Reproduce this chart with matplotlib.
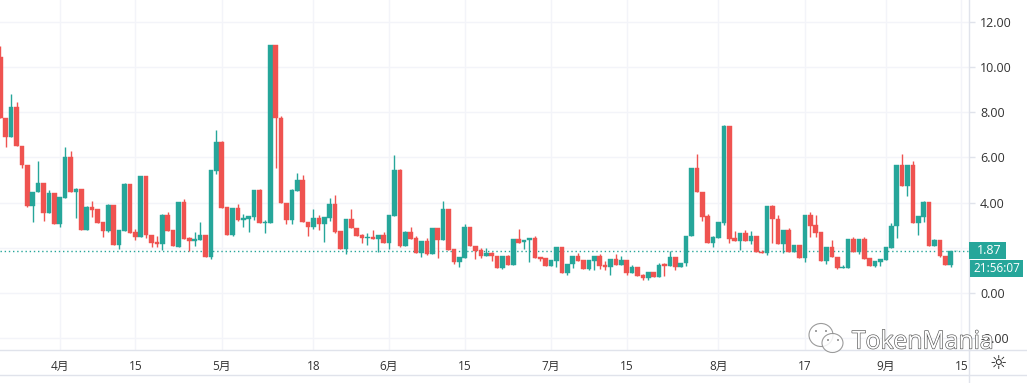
import numpy as np
import matplotlib
matplotlib.use("Agg")
import matplotlib.pyplot as plt
from matplotlib.patches import Ellipse, Rectangle
from matplotlib.lines import Line2D
import matplotlib.patheffects as pe

plt.rcParams["font.family"] = ["Open Sans", "Noto Sans CJK SC", "DejaVu Sans"]

# =========================
# DATA
# =========================

opens = [
    10.46, 7.73, 6.92, 8.22, 6.50, 5.68, 3.86, 4.45, 4.88, 3.55,
    4.44, 3.07, 4.22, 6.03, 4.45, 4.60, 2.79, 3.80, 3.72, 3.13,
    2.74, 3.89, 2.11, 2.76, 4.81, 2.70, 2.49, 5.19, 2.57, 2.24,
    2.15, 3.45, 2.77, 2.05, 4.04, 2.42, 2.32, 2.35, 2.57, 1.59,
    5.40, 6.67, 3.79, 2.58, 3.76, 3.23, 3.29, 3.38, 4.56, 3.11,
    3.11, 10.97, 7.74, 4.00, 3.22, 4.53, 5.00, 3.16, 2.92, 3.32,
    3.07, 3.33, 3.94, 2.73, 1.95, 3.29, 2.89, 2.57, 2.42, 2.49,
    2.39, 2.57, 2.21, 3.42, 5.44, 2.10, 2.70, 2.42, 1.78, 2.30,
    1.71, 2.86, 2.35, 3.72, 1.93, 1.39, 1.55, 2.93, 2.10, 1.90,
    1.62, 1.78, 1.65, 1.11, 1.65, 1.22, 2.37, 2.24, 2.33, 2.42,
    1.58, 1.53, 1.19, 1.43, 2.02, 0.90, 1.27, 1.62, 1.46, 1.06,
    1.43, 1.65, 1.22, 1.15, 1.50, 1.24, 1.46, 0.87, 1.15, 0.78,
    0.68, 0.94, 0.72, 1.27, 1.19, 1.61, 1.15, 1.31, 2.51, 5.52,
    4.48, 3.41, 2.21, 2.43, 3.10, 7.40, 2.42, 2.32, 2.66, 2.32,
    2.54, 1.83, 1.75, 3.85, 3.29, 2.18, 2.77, 1.83, 2.12, 1.56,
    3.44, 3.01, 2.68, 1.43, 2.05, 1.61, 1.12, 1.12, 2.37, 1.83,
    2.37, 1.53, 1.19, 1.39, 1.47, 1.99, 2.95, 5.68, 4.73, 5.68,
    3.10, 3.38, 4.01, 2.10, 2.35, 1.65, 1.22, 1.84,
]
closes = [
    7.73, 6.92, 8.22, 6.49, 5.66, 3.86, 4.48, 4.88, 3.55, 4.44,
    3.07, 4.23, 6.03, 4.45, 4.60, 2.79, 3.80, 3.69, 3.11, 2.74,
    3.89, 2.11, 2.77, 4.81, 2.67, 2.49, 5.19, 2.57, 2.23, 2.15,
    3.45, 2.76, 2.08, 4.04, 2.39, 2.32, 2.37, 2.57, 1.59, 5.44,
    6.67, 3.78, 2.58, 3.76, 3.23, 3.33, 3.41, 4.56, 3.11, 3.14,
    10.97, 7.73, 3.98, 3.22, 4.56, 5.00, 3.16, 2.92, 3.32, 3.07,
    3.36, 3.94, 2.71, 1.95, 3.29, 2.86, 2.54, 2.42, 2.49, 2.39,
    2.57, 2.21, 3.45, 5.44, 2.10, 2.70, 2.39, 1.78, 2.30, 1.71,
    2.86, 2.35, 3.72, 1.90, 1.39, 1.58, 2.93, 2.06, 1.87, 1.62,
    1.78, 1.64, 1.11, 1.65, 1.22, 2.37, 2.21, 2.33, 2.42, 1.55,
    1.52, 1.19, 1.46, 2.02, 0.90, 1.30, 1.62, 1.43, 1.06, 1.46,
    1.65, 1.19, 1.17, 1.50, 1.24, 1.46, 0.87, 1.15, 0.75, 0.68,
    0.94, 0.72, 1.25, 1.21, 1.61, 1.13, 1.34, 2.54, 5.52, 4.45,
    3.38, 2.21, 2.46, 3.13, 7.40, 2.39, 2.32, 2.66, 2.32, 2.54,
    1.80, 1.75, 3.85, 3.26, 2.18, 2.77, 1.83, 2.12, 1.56, 3.44,
    2.98, 2.67, 1.43, 2.05, 1.61, 1.12, 1.15, 2.37, 1.83, 2.37,
    1.52, 1.19, 1.42, 1.50, 2.02, 2.96, 5.68, 4.73, 5.68, 3.10,
    3.41, 4.01, 2.10, 2.35, 1.64, 1.22, 1.87, 1.87,
]
highs = [
    10.94, 7.73, 8.79, 8.44, 6.50, 5.68, 4.48, 5.84, 4.88, 4.56,
    4.44, 4.23, 6.45, 6.28, 4.63, 4.60, 3.85, 4.09, 3.72, 3.13,
    3.92, 3.89, 2.77, 4.88, 4.81, 2.82, 5.19, 5.19, 2.57, 2.54,
    3.50, 3.57, 2.77, 4.04, 4.16, 2.46, 2.70, 3.14, 2.57, 5.44,
    7.21, 6.71, 3.79, 3.76, 3.94, 3.50, 3.41, 4.56, 4.59, 3.22,
    10.97, 10.97, 7.83, 4.00, 4.60, 5.33, 5.22, 3.16, 3.72, 3.45,
    3.36, 4.19, 4.34, 2.73, 3.29, 3.72, 2.89, 2.61, 2.64, 2.79,
    2.57, 2.71, 3.45, 6.11, 5.49, 2.73, 2.92, 2.52, 2.30, 2.42,
    2.89, 2.86, 4.09, 3.72, 1.93, 1.58, 3.05, 2.93, 2.10, 1.98,
    1.98, 1.83, 1.65, 1.65, 1.70, 2.37, 2.82, 2.33, 2.42, 2.52,
    1.61, 1.53, 1.46, 2.02, 2.02, 1.30, 1.62, 1.78, 1.46, 1.46,
    1.65, 1.73, 1.43, 1.50, 1.71, 1.62, 1.46, 1.24, 1.15, 0.83,
    0.94, 0.94, 1.31, 1.31, 1.86, 1.61, 1.34, 2.54, 5.52, 6.15,
    4.48, 3.48, 2.52, 3.13, 7.45, 7.40, 2.74, 2.66, 2.77, 2.74,
    2.54, 1.90, 3.85, 3.88, 3.45, 2.77, 2.86, 2.12, 2.12, 3.44,
    3.57, 3.45, 2.68, 2.05, 2.35, 1.61, 1.24, 2.37, 2.46, 2.37,
    2.46, 1.53, 1.42, 1.50, 2.02, 3.08, 5.68, 6.15, 5.68, 5.83,
    3.41, 4.06, 4.01, 2.39, 2.35, 1.65, 1.87, 1.88,
]
lows = [
    7.73, 6.45, 6.92, 6.49, 5.55, 3.82, 3.16, 4.45, 3.19, 3.55,
    3.07, 2.94, 4.22, 4.45, 3.33, 2.79, 2.79, 3.38, 3.11, 2.46,
    2.71, 2.11, 1.96, 2.76, 2.67, 2.35, 2.49, 2.42, 2.05, 2.02,
    1.90, 2.76, 2.08, 2.05, 2.39, 1.87, 2.09, 2.35, 1.59, 1.50,
    5.28, 3.78, 2.58, 2.54, 3.17, 2.94, 2.70, 3.23, 3.11, 2.67,
    3.11, 5.55, 3.98, 3.05, 3.05, 4.53, 3.16, 2.52, 2.85, 2.79,
    2.27, 3.20, 2.67, 1.95, 1.74, 2.86, 2.54, 2.23, 2.14, 2.39,
    1.83, 2.21, 1.96, 3.42, 2.02, 2.10, 2.39, 1.78, 1.59, 1.67,
    1.71, 1.55, 2.35, 1.90, 1.27, 1.15, 1.55, 2.06, 1.50, 1.53,
    1.62, 1.43, 1.11, 1.08, 1.22, 1.22, 2.21, 1.96, 1.39, 1.55,
    1.43, 1.19, 1.19, 1.17, 0.90, 0.80, 1.12, 1.43, 1.06, 1.03,
    1.03, 1.08, 1.00, 0.78, 1.24, 1.24, 0.80, 0.87, 0.75, 0.57,
    0.57, 0.72, 0.72, 0.75, 1.19, 1.02, 1.15, 1.21, 2.51, 4.45,
    3.18, 2.21, 2.02, 2.43, 3.02, 2.23, 2.32, 1.90, 2.32, 2.17,
    1.80, 1.75, 1.67, 2.23, 2.18, 1.78, 1.83, 1.83, 1.56, 1.39,
    2.49, 2.49, 1.43, 1.27, 1.61, 1.08, 1.12, 1.12, 1.83, 1.71,
    1.52, 1.19, 1.16, 1.19, 1.47, 1.99, 2.45, 4.73, 4.29, 3.10,
    2.57, 3.16, 2.10, 2.10, 1.60, 1.22, 1.16, 1.84,
]

price_ticks = [12, 10, 8, 6, 4, 2, 0, -2]
price_labels = ["12.00", "10.00", "8.00", "6.00", "4.00", "", "0.00", "-2.00"]  # 2.00 sits under the price box
date_pos = [11, 25, 41, 58, 72, 86, 102, 116, 133, 149, 164, 178]
date_labels = ["4月", "15", "5月", "18", "6月", "15", "7月", "15", "8月", "17", "9月", "15"]
last_price = 1.87
countdown = "21:56:07"
watermark = "TokenMania"

# =========================
# Figure setup
# =========================

W, H = 1027, 383
UP = "#26a69a"
DOWN = "#ef5350"
BORDER = "#e0e3eb"
GRID = "#f3f4f9"
TEXT = "#333333"

fig = plt.figure(figsize=(W / 100, H / 100), dpi=100, facecolor="white")
ax_right, ax_bottom = 969, 350
ax = fig.add_axes([0, 1 - ax_bottom / H, ax_right / W, ax_bottom / H])


def fx(x):
    return x / W


def fy(y):
    return 1 - y / H


ax.set_xlim(-0.06, 179.4)
ax.set_ylim(-2.52, 12.96)
ax.set_axisbelow(True)
ax.grid(True, color=GRID, lw=1.0)

# =========================
# Candles
# =========================

idx = np.arange(len(closes))
o = np.array(opens)
c = np.array(closes)
colors = [UP if cc >= oo else DOWN for oo, cc in zip(o, c)]

ax.vlines(idx, lows, highs, colors=colors, lw=1.0, zorder=2)
ax.bar(idx, np.abs(c - o), bottom=np.minimum(o, c), width=0.84,
       color=colors, edgecolor=colors, lw=0.3, zorder=3)

# last price line
ax.axhline(last_price, color=UP, lw=1.0, ls=(0, (1, 2)), zorder=1)

# =========================
# Axes
# =========================

ax.yaxis.tick_right()
ax.set_yticks(price_ticks)
ax.set_yticklabels(price_labels, fontsize=9, color=TEXT)
ax.tick_params(axis="y", length=4, width=1, color=BORDER, pad=4)

ax.set_xticks(date_pos)
ax.set_xticklabels(date_labels, fontsize=8.5, color=TEXT)
ax.tick_params(axis="x", length=0, pad=7)

for s in ["top", "left"]:
    ax.spines[s].set_visible(False)
for s in ["right", "bottom"]:
    ax.spines[s].set_color(BORDER)
    ax.spines[s].set_linewidth(1.0)

# axis frame outside the plot area
fig.add_artist(Line2D([fx(ax_right), 1], [fy(ax_bottom)] * 2, color=BORDER, lw=1.0))
fig.add_artist(Line2D([0, 1], [fy(375)] * 2, color=BORDER, lw=1.0))
fig.add_artist(Line2D([fx(ax_right)] * 2, [fy(ax_bottom), fy(383)], color=BORDER, lw=1.0))

# =========================
# Price and countdown labels
# =========================

fig.add_artist(Rectangle((fx(969), fy(259)), 37 / W, 17 / H, color=UP,
                         transform=fig.transFigure, lw=0))
fig.text(fx(989), fy(250.5), f"{last_price:.2f}", color="white", fontsize=9,
         ha="center", va="center")
fig.add_artist(Rectangle((fx(970), fy(277)), 53 / W, 17 / H, color=UP,
                         transform=fig.transFigure, lw=0))
fig.text(fx(996.5), fy(268.5), countdown, color="white", fontsize=8.5,
         ha="center", va="center")

# settings icon
fig.text(fx(998), fy(363.5), "\u263c", color="#222222", fontsize=14,
         ha="center", va="center", family="DejaVu Sans")

# =========================
# Watermark
# =========================

for cx, cy, ew, eh in [(821, 335, 24, 23), (832.5, 343, 21, 19)]:
    fig.add_artist(Ellipse((fx(cx), fy(cy)), ew / W, eh / H, transform=fig.transFigure,
                           facecolor="white", edgecolor="#8a8a8a", lw=0.8, alpha=0.85))
for dx, dy in [(816, 331), (826, 331), (828, 340), (838, 340)]:
    fig.add_artist(Ellipse((fx(dx), fy(dy)), 2 / W, 2 / H, transform=fig.transFigure,
                           facecolor="#8a8a8a", edgecolor="none"))

fig.text(fx(852), fy(342), watermark, fontsize=17.8, color="white", ha="left", va="center",
         family="Open Sans", zorder=10,
         path_effects=[pe.withStroke(linewidth=0.9, foreground="#555555")])

fig.savefig("out.png", dpi=100, facecolor="white")
